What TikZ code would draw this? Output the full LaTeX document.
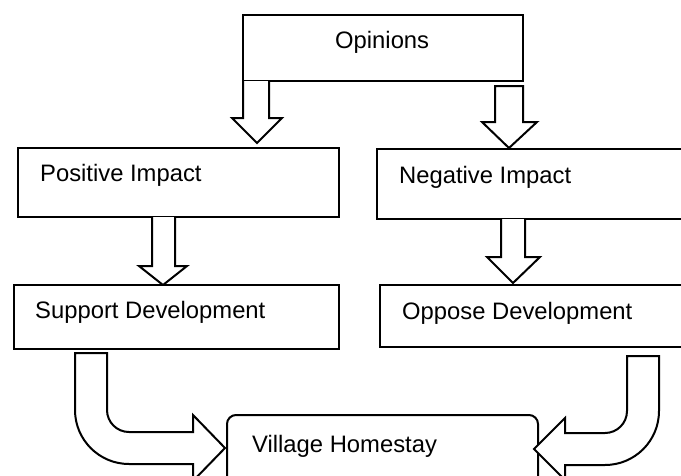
\documentclass[tikz,border=0pt]{standalone}
\usepackage{fontspec}
\setmainfont{Liberation Sans}
\begin{document}
\begin{tikzpicture}[x=1pt,y=-1pt,
  boxline/.style={draw=black, line width=2pt, fill=white, rectangle, inner sep=0pt},
  lbl/.style={anchor=base west, inner sep=0pt, font=\fontsize{23.8}{28}\selectfont},
  blockarrow/.style={draw=black, line width=2pt, fill=white, line join=miter}]
\useasboundingbox (0,0) rectangle (681,475);
\clip (0,0) rectangle (681,475);
% boxes
\node[boxline, minimum width=280pt, minimum height=66pt] (opinions) at (383,48) {};
\node[lbl] (topt) at (335,48.3) {Opinions};
% arrows from Opinions
\draw[blockarrow] (243,81) -- (243,118) -- (232,118) -- (257,143) -- (282,118) -- (269,118) -- (269,81);
\draw[blockarrow] (495,86) -- (495,122) -- (482,122) -- (509,148) -- (537,122) -- (523,122) -- (523,86) -- cycle;
% Positive / Negative
\node[boxline, minimum width=321pt, minimum height=69pt] (positive) at (178.5,182.5) {};
\node[lbl] (tpos) at (40,181.7) {Positive Impact};
\node[boxline, minimum width=323pt, minimum height=70pt] (negative) at (538.5,184) {};
\node[lbl] (tneg) at (399,183) {Negative Impact};
% arrows to support / oppose
\draw[blockarrow] (152,217) -- (152,266) -- (139,266) -- (163,285) -- (187,266) -- (175,266) -- (175,217);
\draw[blockarrow] (501,219) -- (501,257) -- (487,257) -- (513,283) -- (540,257) -- (525,257) -- (525,219);
% Support / Oppose
\node[boxline, minimum width=325pt, minimum height=64pt] (support) at (176.5,317) {};
\node[lbl] (tsup) at (35,318) {Support Development};
\node[boxline, minimum width=320pt, minimum height=62pt] (oppose) at (540,316) {};
\node[lbl] (topp) at (402,319) {Oppose Development};
% Village Homestay
\node[boxline, rounded corners=9pt, minimum width=311pt, minimum height=85pt] (village) at (382.5,457.5) {};
\node[lbl] (tvil) at (252,452) {Village Homestay};
% curved arrows
\draw[blockarrow] (75,353) -- (107,353) -- (107,410) arc[start angle=180, end angle=90, radius=22] -- (193,432) -- (193,415) -- (225,448) -- (193,481) -- (193,464) -- (129,464) arc[start angle=90, end angle=180, radius=54] -- cycle;
\draw[blockarrow] (659,356) -- (627,356) -- (627,411) arc[start angle=0, end angle=90, radius=22] -- (565,433) -- (565,418) -- (534,449) -- (565,480) -- (565,465) -- (605,465) arc[start angle=90, end angle=0, radius=54] -- cycle;
\end{tikzpicture}
\end{document}
